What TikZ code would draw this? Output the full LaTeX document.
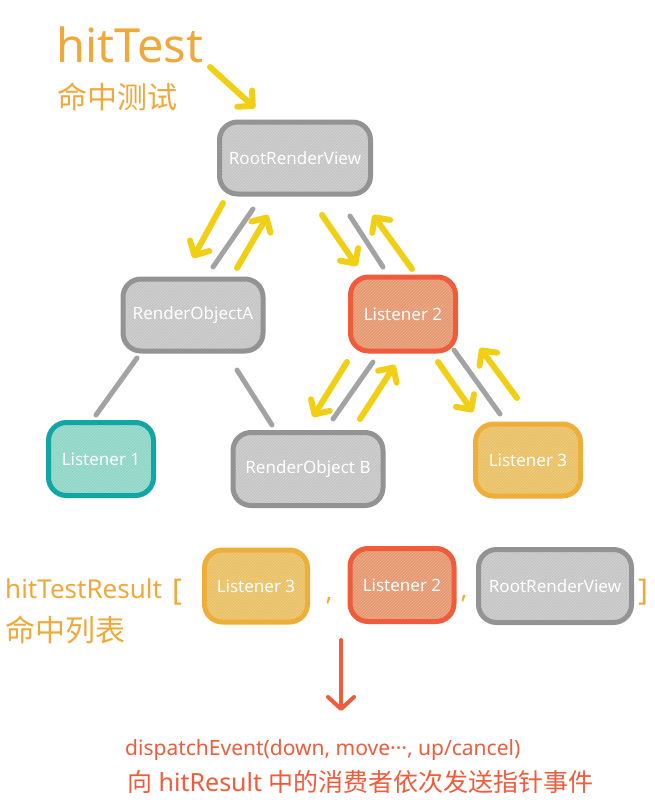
\documentclass[tikz,border=0pt]{standalone}
\usepackage{fontspec}
\setmainfont{Noto Sans}
\newfontfamily\cjk{Noto Sans CJK SC}
\usetikzlibrary{arrows.meta,patterns}
\definecolor{grayfill}{HTML}{C4C4C4}
\definecolor{grayline}{HTML}{939393}
\definecolor{redfill}{HTML}{E6976F}
\definecolor{redline}{HTML}{F05B3B}
\definecolor{tealfill}{HTML}{8ED6C6}
\definecolor{tealline}{HTML}{12A5A6}
\definecolor{ambfill}{HTML}{EAC063}
\definecolor{ambline}{HTML}{EEAE3A}
\definecolor{arrowyel}{HTML}{F0CF14}
\definecolor{conn}{HTML}{A3A3A3}
\definecolor{orangetxt}{HTML}{EFA83A}
\definecolor{redtxt}{HTML}{F05B3B}
\tikzset{
  box/.style={rounded corners=18pt, line width=5pt, text=white, inner sep=0pt,
    font=\fontsize{17}{19}\selectfont},
  graybox/.style={box, preaction={fill=grayfill}, pattern=north east lines,
    pattern color=grayfill!70!white, draw=grayline},
  redbox/.style={box, preaction={fill=redfill}, pattern=north east lines,
    pattern color=redfill!75!white, draw=redline},
  tealbox/.style={box, preaction={fill=tealfill}, pattern=north east lines,
    pattern color=tealfill!75!white, draw=tealline},
  ambbox/.style={box, preaction={fill=ambfill}, pattern=north east lines,
    pattern color=ambfill!75!white, draw=ambline},
  yarrow/.style={draw=arrowyel, line width=6pt, line cap=round,
    -{Straight Barb[length=11pt,width=22pt,line cap=round,line join=round]}},
  gline/.style={draw=conn, line width=5pt, line cap=round},
  otext/.style={text=orangetxt, inner sep=0pt},
  rtext/.style={text=redtxt, inner sep=0pt},
}
\begin{document}
\begin{tikzpicture}[x=1pt,y=-1pt]
\useasboundingbox (0,0) rectangle (654,804);
% tree nodes
\node[graybox, minimum width=151pt, minimum height=72pt] (root) at (295,158) {RootRenderView};
\node[graybox, minimum width=140pt, minimum height=72pt] (roa) at (193,315) {RenderObjectA};
\node[redbox, minimum width=105pt, minimum height=74pt] (l2) at (403,314) {Listener 2};
\node[tealbox, minimum width=105pt, minimum height=73pt] (l1) at (101,459) {Listener 1};
\node[graybox, minimum width=150pt, minimum height=73pt] (rob) at (308,469) {RenderObject B};
\node[ambbox, minimum width=105pt, minimum height=72pt] (l3) at (528,460) {Listener 3};
% result list
\node[ambbox, minimum width=103pt, minimum height=72pt] (r3) at (256,586) {Listener 3};
\node[redbox, minimum width=104pt, minimum height=73pt] (r2) at (402,585) {Listener 2};
\node[graybox, minimum width=153pt, minimum height=73pt] (rr) at (555,586) {RootRenderView};
% texts
\node[otext, anchor=base west, font=\fontsize{47}{50}\selectfont] (ht) at (56,62) {hitTest};
\node[otext, anchor=west, font=\cjk\fontsize{30}{32}\selectfont] (htc) at (57,97) {命中测试};
\node[otext, anchor=base west, font=\fontsize{26}{28}\selectfont] (htr) at (5,598) {hitTestResult};
\node[otext, anchor=base west, font=\fontsize{30}{32}\selectfont] (lb) at (172,600) {[};
\node[otext, anchor=west, font=\cjk\fontsize{30}{32}\selectfont] (htrc) at (5,630) {命中列表};
\node[otext, anchor=base, font=\fontsize{26}{28}\selectfont] (c1) at (329,600) {,};
\node[otext, anchor=base, font=\fontsize{26}{28}\selectfont] (c2) at (464,598) {,};
\node[otext, anchor=base, font=\fontsize{30}{32}\selectfont] (rb) at (643,600) {]};
\node[rtext, anchor=base west, font=\fontsize{21}{24}\selectfont] (d1) at (125,755) {dispatchEvent(down, move···, up/cancel)};
\node[rtext, anchor=west, font=\fontsize{25}{28}\selectfont] (d2) at (127,782) {{\cjk 向} hitResult {\cjk 中的消费者依次发送指针事件}};
% hitTest arrow
\coordinate (hs) at (210,67);
\coordinate (he) at (255,108);
\draw[yarrow] (hs) -- (he);
% root - roa
\coordinate (a1) at (223,203); \coordinate (a2) at (193,258);
\coordinate (b1) at (253,209); \coordinate (b2) at (213,267);
\coordinate (c1s) at (237,268); \coordinate (c1e) at (268,215);
\draw[yarrow] (a1) -- (a2);
\draw[gline] (b1) -- (b2);
\draw[yarrow] (c1s) -- (c1e);
% root - l2
\coordinate (a3) at (322,215); \coordinate (a4) at (357,266);
\coordinate (b3) at (350,216); \coordinate (b4) at (383,267);
\coordinate (c3s) at (412,269); \coordinate (c3e) at (373,215);
\draw[yarrow] (a3) -- (a4);
\draw[gline] (b3) -- (b4);
\draw[yarrow] (c3s) -- (c3e);
% roa - l1, roa - rob
\coordinate (e1) at (137,358); \coordinate (e2) at (96,415);
\coordinate (f1) at (237,370); \coordinate (f2) at (272,425);
\draw[gline] (e1) -- (e2);
\draw[gline] (f1) -- (f2);
% l2 - rob
\coordinate (a5) at (347,362); \coordinate (a6) at (313,417);
\coordinate (b5) at (373,362); \coordinate (b6) at (333,419);
\coordinate (c5s) at (360,419); \coordinate (c5e) at (395,365);
\draw[yarrow] (a5) -- (a6);
\draw[gline] (b5) -- (b6);
\draw[yarrow] (c5s) -- (c5e);
% l2 - l3
\coordinate (a7) at (438,362); \coordinate (a8) at (473,412);
\coordinate (b7) at (454,350); \coordinate (b8) at (500,414);
\coordinate (c7s) at (517,398); \coordinate (c7e) at (480,348);
\draw[yarrow] (a7) -- (a8);
\draw[gline] (b7) -- (b8);
\draw[yarrow] (c7s) -- (c7e);
% dispatch arrow
\coordinate (ds) at (341,640);
\coordinate (de) at (341,711);
\draw[draw=redline, line width=4pt, line cap=round,
  -{Straight Barb[length=12pt,width=26pt,line cap=round,line join=round]}] (ds) -- (de);
\end{tikzpicture}
\end{document}
